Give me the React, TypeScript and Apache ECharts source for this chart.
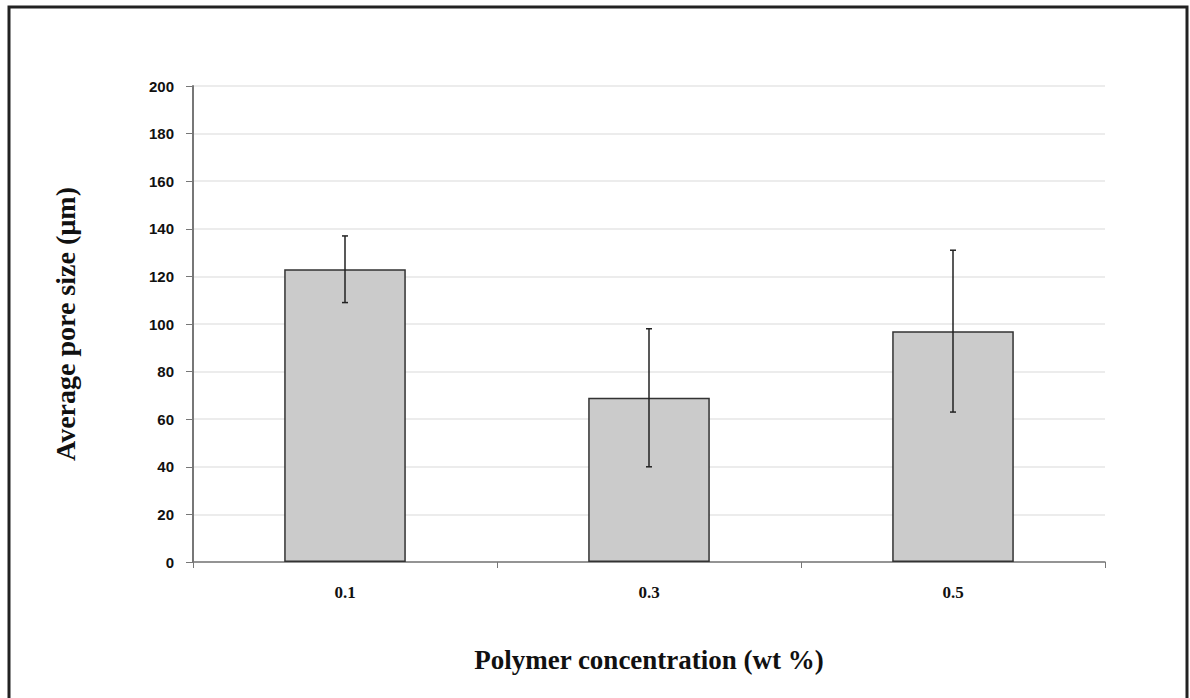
import React, { useEffect, useRef } from "react";
import * as echarts from "echarts";

const categories = ["0.1", "0.3", "0.5"];
const means = [123, 69, 97];
const errors = [14, 29, 34];
const yTicks = [0, 20, 40, 60, 80, 100, 120, 140, 160, 180, 200];

export default function App() {
  const ref = useRef<HTMLDivElement>(null);
  useEffect(() => {
    document.body.style.margin = "0";
    const chart = echarts.init(ref.current!, null, { renderer: "svg" });
    const errData = categories.map((c, i) => [i, means[i] - errors[i], means[i] + errors[i]]);
    chart.setOption({
      animation: false,
      backgroundColor: "#ffffff",
      graphic: [
        {
          type: "rect",
          shape: { x: 9, y: 7, width: 1178, height: 700 },
          style: { fill: "none", stroke: "#222", lineWidth: 3 },
          silent: true,
        },
      ],
      grid: { left: 193, right: 85, top: 86, bottom: 136, containLabel: false },
      xAxis: {
        type: "category",
        data: categories,
        axisLine: { lineStyle: { color: "#777", width: 1.5 } },
        axisTick: { show: true, alignWithLabel: false, length: 6, lineStyle: { color: "#777" } },
        axisLabel: {
          margin: 22,
          fontFamily: "Liberation Serif",
          fontWeight: "bold",
          fontSize: 17,
          color: "#111",
        },
        name: "Polymer concentration (wt %)",
        nameLocation: "middle",
        nameGap: 84,
        nameTextStyle: {
          fontFamily: "Liberation Serif",
          fontWeight: "bold",
          fontSize: 27,
          color: "#111",
        },
      },
      yAxis: {
        type: "value",
        min: 0,
        max: 200,
        interval: 20,
        axisLine: { show: true, lineStyle: { color: "#777", width: 2 } },
        axisTick: { show: true, length: 7, lineStyle: { color: "#777" } },
        splitLine: { show: true, lineStyle: { color: "#e6e6e6", width: 1.5 } },
        axisLabel: {
          margin: 19,
          fontFamily: "Liberation Sans",
          fontWeight: "bold",
          fontSize: 15,
          color: "#111",
          formatter: (v: number) => (yTicks.includes(v) ? String(v) : ""),
        },
        name: "Average pore size (µm)",
        nameLocation: "middle",
        nameGap: 114,
        nameTextStyle: {
          fontFamily: "Liberation Serif",
          fontWeight: "bold",
          fontSize: 28,
          color: "#111",
        },
      },
      series: [
        {
          type: "bar",
          data: means,
          barWidth: "40%",
          itemStyle: { color: "#cbcbcb", borderColor: "#333", borderWidth: 1.5 },
          z: 2,
        },
        {
          type: "custom",
          data: errData,
          z: 5,
          renderItem: (params: any, api: any) => {
            const x = api.value(0);
            const lo = api.coord([x, api.value(1)]);
            const hi = api.coord([x, api.value(2)]);
            const hw = 3;
            const style = { stroke: "#222", lineWidth: 1.5 };
            return {
              type: "group",
              children: [
                { type: "line", shape: { x1: hi[0], y1: hi[1], x2: lo[0], y2: lo[1] }, style },
                { type: "line", shape: { x1: hi[0] - hw, y1: hi[1], x2: hi[0] + hw, y2: hi[1] }, style },
                { type: "line", shape: { x1: lo[0] - hw, y1: lo[1], x2: lo[0] + hw, y2: lo[1] }, style },
              ],
            };
          },
        },
      ],
    });
    return () => chart.dispose();
  }, []);
  return <div ref={ref} style={{ width: 1190, height: 698 }} />;
}
